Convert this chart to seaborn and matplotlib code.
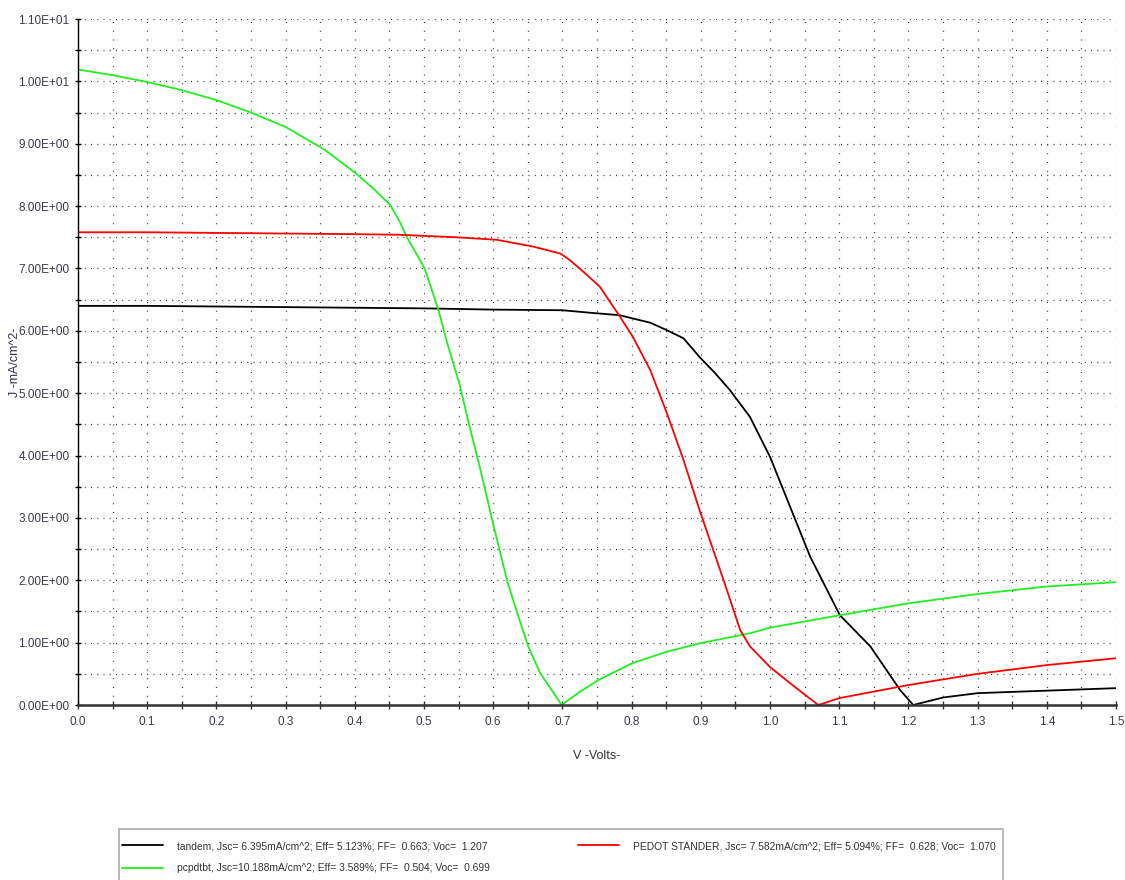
import numpy as np
import pandas as pd
import matplotlib
matplotlib.use("Agg")
import matplotlib.pyplot as plt
import seaborn as sns
from matplotlib.ticker import MultipleLocator, FuncFormatter
from matplotlib.patches import Rectangle

# ---------------- data ----------------
tandem_v = [0.0, 0.1, 0.2, 0.3, 0.4, 0.5, 0.6, 0.7, 0.74, 0.783, 0.812, 0.827, 0.851, 0.875, 0.899,
            0.92, 0.942, 0.971, 1.0, 1.029, 1.058, 1.101, 1.145, 1.188, 1.207, 1.25, 1.3, 1.4, 1.5]
tandem_j = [6.40, 6.40, 6.39, 6.38, 6.37, 6.36, 6.34, 6.33, 6.29, 6.25, 6.17, 6.13, 6.01, 5.88, 5.57,
            5.33, 5.05, 4.62, 3.98, 3.18, 2.38, 1.44, 0.94, 0.24, 0.0, 0.12, 0.19, 0.23, 0.27]

pedot_v = [0.0, 0.1, 0.2, 0.3, 0.4, 0.465, 0.547, 0.605, 0.658, 0.697, 0.71, 0.725, 0.754, 0.783, 0.802,
           0.827, 0.851, 0.875, 0.899, 0.933, 0.957, 0.971, 1.0, 1.029, 1.058, 1.07,
           1.1, 1.2, 1.3, 1.4, 1.5]
pedot_j = [7.58, 7.58, 7.57, 7.56, 7.55, 7.54, 7.50, 7.46, 7.35, 7.24, 7.14, 7.00, 6.71, 6.23, 5.90,
           5.37, 4.68, 3.93, 3.10, 2.00, 1.20, 0.94, 0.61, 0.35, 0.10, 0.0,
           0.11, 0.32, 0.50, 0.64, 0.75]

pcp_v = [0.0, 0.05, 0.1, 0.15, 0.2, 0.25, 0.3, 0.357, 0.401, 0.427, 0.451, 0.465, 0.475, 0.501, 0.521,
         0.535, 0.551, 0.566, 0.581, 0.600, 0.62, 0.634, 0.651, 0.668, 0.699, 0.725, 0.752, 0.801,
         0.851, 0.899, 0.971, 1.0, 1.101, 1.2, 1.3, 1.4, 1.5]
pcp_j = [10.19, 10.10, 9.99, 9.86, 9.70, 9.50, 9.27, 8.90, 8.53, 8.28, 8.02, 7.75, 7.51, 7.00, 6.33,
         5.75, 5.16, 4.46, 3.80, 2.90, 2.00, 1.50, 0.93, 0.51, 0.0, 0.21, 0.40, 0.67,
         0.855, 0.99, 1.15, 1.24, 1.44, 1.63, 1.78, 1.90, 1.97]

labels = [
    "tandem, Jsc= 6.395mA/cm^2; Eff= 5.123%; FF=  0.663; Voc=  1.207",
    "pcpdtbt, Jsc=10.188mA/cm^2; Eff= 3.589%; FF=  0.504; Voc=  0.699",
    "PEDOT STANDER, Jsc= 7.582mA/cm^2; Eff= 5.094%; FF=  0.628; Voc=  1.070",
]
colors = ["#000000", "#22ee22", "#ff0000"]

# ---------------- style ----------------
sns.set_theme(style="white")
plt.rcParams["font.family"] = ["Liberation Sans", "DejaVu Sans"]

fig = plt.figure(figsize=(11.25, 8.80), dpi=100)
ax = fig.add_axes([78 / 1125, 1 - 705 / 880, (1116 - 78) / 1125, (705 - 19) / 880])

series = [(tandem_v, tandem_j), (pcp_v, pcp_j), (pedot_v, pedot_j)]
handles = []
for (v, j), lab, col in zip(series, labels, colors):
    df = pd.DataFrame({"V": v, "J": j})
    sns.lineplot(data=df, x="V", y="J", ax=ax, color=col, linewidth=1.3, sort=False,
                 estimator=None, label=lab, legend=False)
    handles.append(ax.lines[-1])

ax.set_xlim(0, 1.5)
ax.set_ylim(0, 11)
ax.xaxis.set_major_locator(MultipleLocator(0.1))
ax.xaxis.set_minor_locator(MultipleLocator(0.05))
ax.yaxis.set_major_locator(MultipleLocator(1.0))
ax.yaxis.set_minor_locator(MultipleLocator(0.5))
ax.xaxis.set_major_formatter(FuncFormatter(lambda x, p: f"{x:.1f}"))
ax.yaxis.set_major_formatter(FuncFormatter(lambda y, p: f"{y:.2E}"))

ax.grid(False)
ax.grid(which="both", axis="x", linestyle=(0, (0.8, 6.2)), color="#333333", linewidth=0.9)
ax.grid(which="both", axis="y", linestyle=(0, (0.8, 4.2)), color="#333333", linewidth=0.9)
ax.set_axisbelow(True)

for s in ["top", "right"]:
    ax.spines[s].set_visible(False)
ax.spines["left"].set_color("black")
ax.spines["left"].set_linewidth(1.0)
ax.spines["bottom"].set_color("#333333")
ax.spines["bottom"].set_linewidth(1.8)

ax.tick_params(axis="x", which="both", direction="inout", length=6, width=1.0, color="#333333",
               labelsize=8.5, labelcolor="#3a3a4a", pad=5, bottom=True)
ax.tick_params(axis="y", which="both", direction="inout", length=4, width=1.0, color="black",
               labelsize=8.5, labelcolor="#3a3a4a", pad=4, left=True)

ax.set_xlabel("V -Volts-", fontsize=9, color="#333333", labelpad=16)
ax.set_ylabel("J -mA/cm^2-", fontsize=9, color="#3a2a55", labelpad=6)
ax.yaxis.set_label_coords(-0.055, 0.50)

# legend
leg = fig.legend(handles=handles, labels=labels, ncol=2, loc="upper left",
                 bbox_to_anchor=(122 / 1125, 1 - 841 / 880), frameon=False,
                 fontsize=7.4, handlelength=4.0, handletextpad=1.35, columnspacing=8.6,
                 labelspacing=1.2, borderaxespad=0, borderpad=0)
for t in leg.get_texts():
    t.set_color("#333333")
fig.patches.append(Rectangle((119 / 1125, -0.01), (1003 - 119) / 1125, 1 - 829 / 880 + 0.01,
                             transform=fig.transFigure, fill=False, edgecolor="#aaaaaa",
                             linewidth=1.2))

fig.savefig("out.png", dpi=100)
